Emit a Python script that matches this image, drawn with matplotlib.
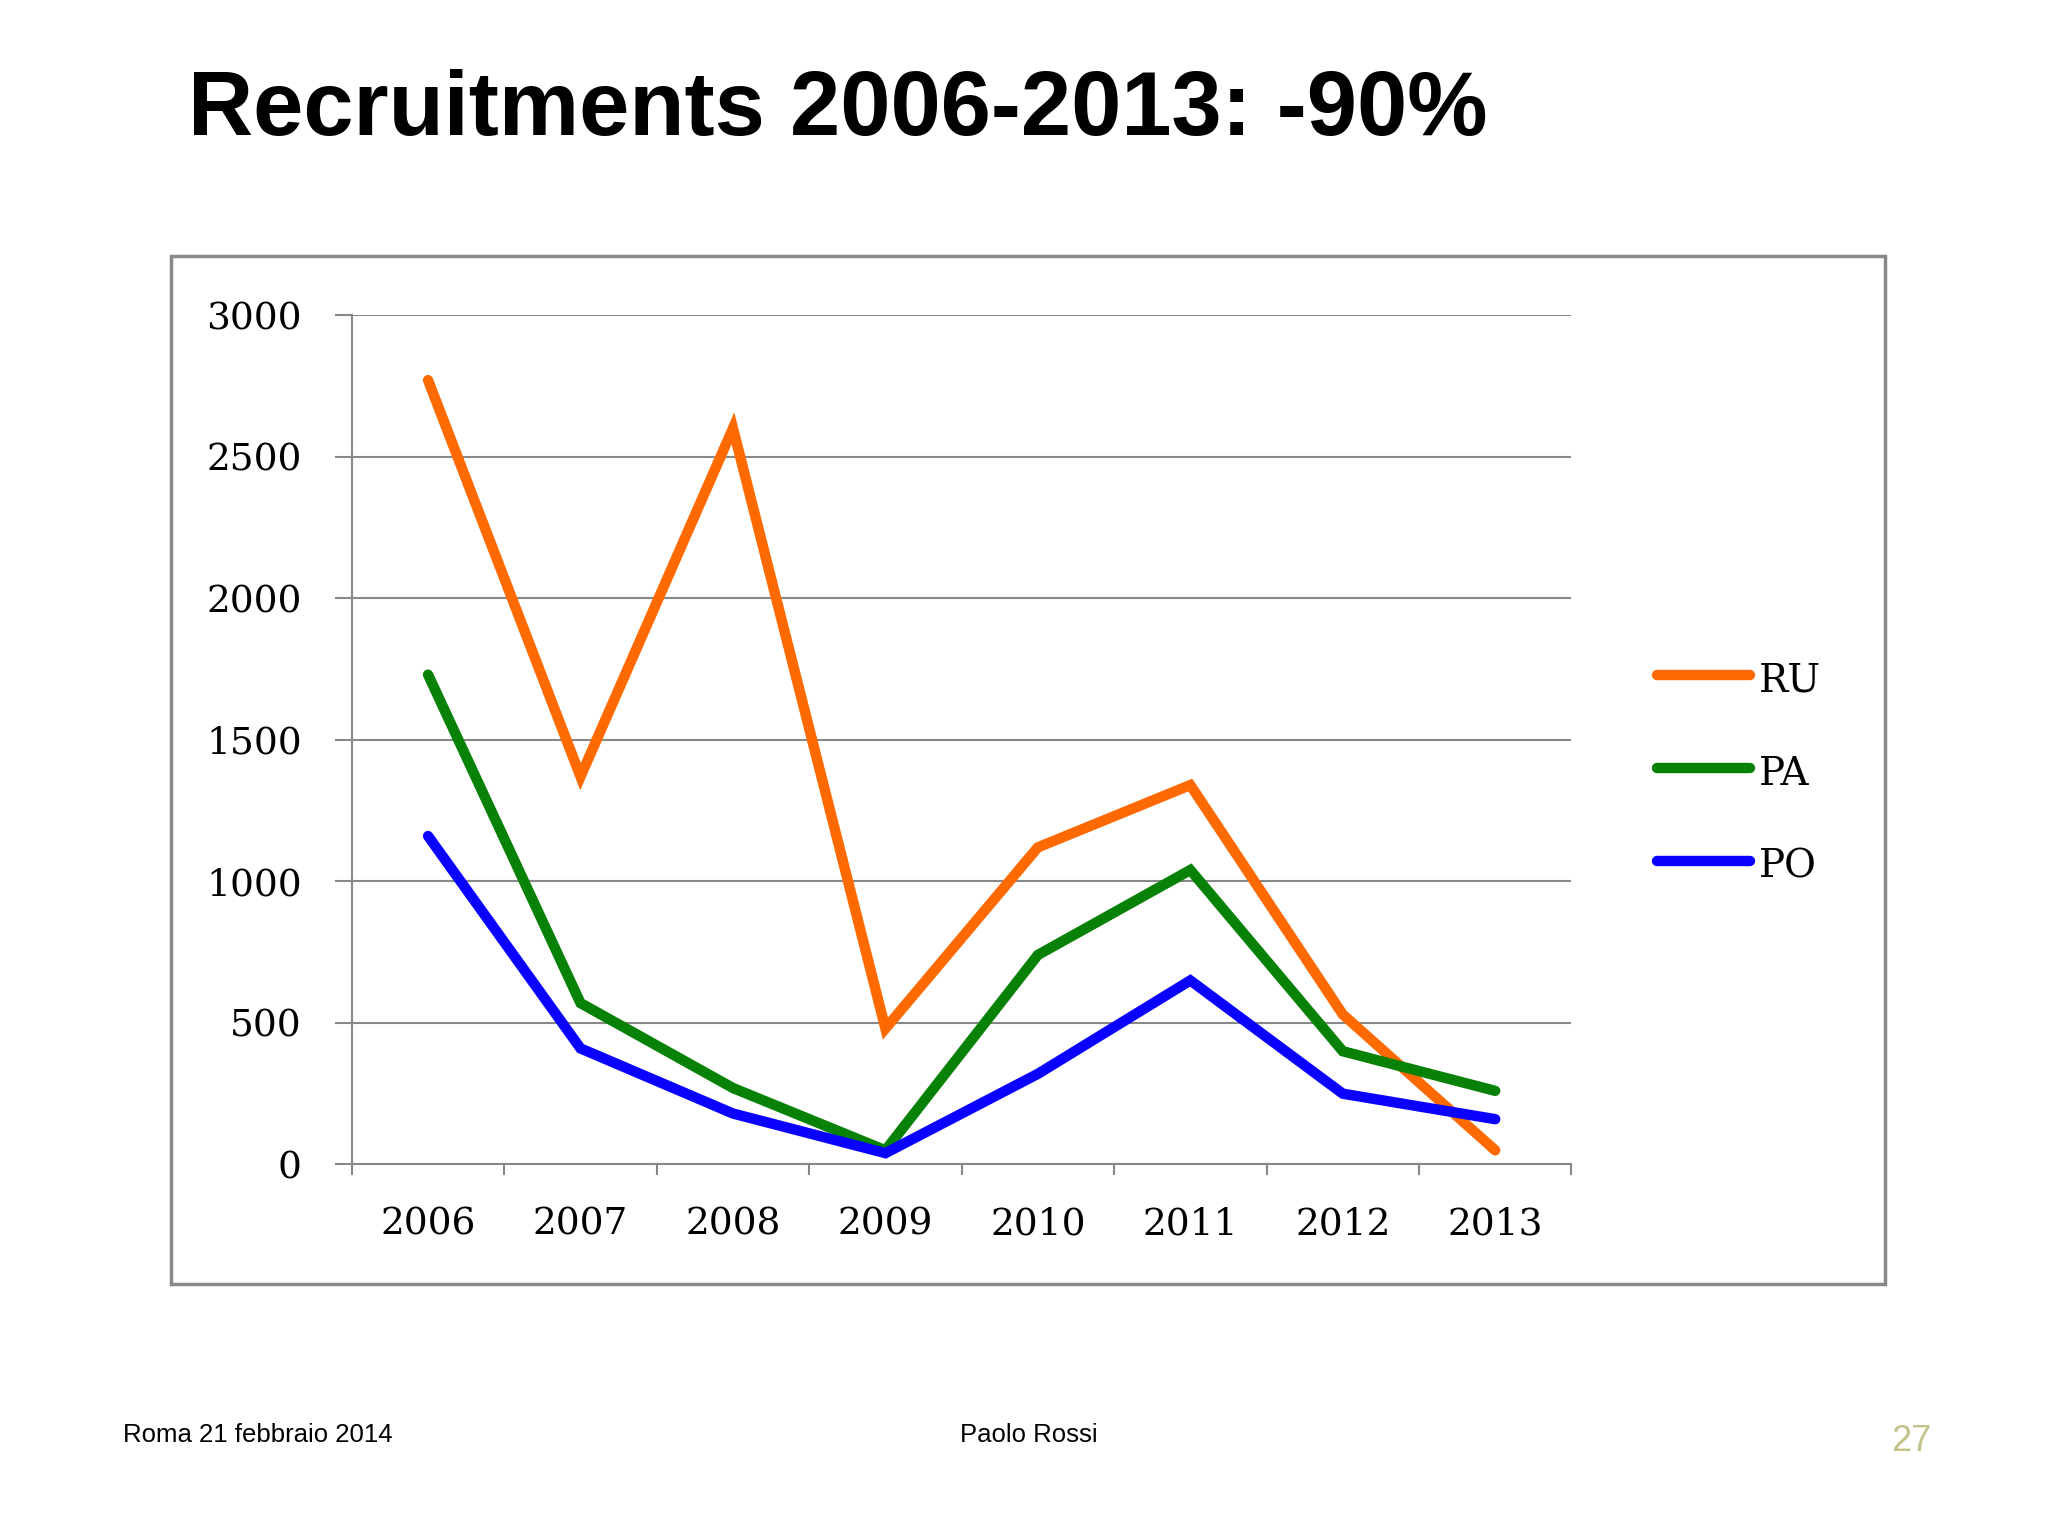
import matplotlib
matplotlib.use("Agg")
import matplotlib.pyplot as plt
from matplotlib.patches import Rectangle
from matplotlib.lines import Line2D

years = ["2006", "2007", "2008", "2009", "2010", "2011", "2012", "2013"]
ru = [2770, 1370, 2600, 480, 1120, 1340, 530, 50]
pa = [1730, 570, 270, 50, 740, 1040, 400, 260]
po = [1160, 410, 180, 40, 320, 650, 250, 160]
series = [("RU", ru, "#ff6a00"), ("PA", pa, "#078207"), ("PO", po, "#0a00ff")]
yticks = [0, 500, 1000, 1500, 2000, 2500, 3000]

W, H = 1560, 1170
fig = plt.figure(figsize=(20.48, 15.36), dpi=100)
fig.patch.set_facecolor("white")
fig.add_artist(Rectangle((130/W, 1-978/H), (1436-130)/W, (978-195)/H, transform=fig.transFigure,
                         fill=False, edgecolor="#888888", linewidth=2.5))
fig.text(143/W, 1-85/H, "Recruitments 2006-2013: -90%", fontsize=65, fontweight="bold",
         family="Liberation Sans", va="center", ha="left")

ax = fig.add_axes([268/W, 1-887/H, (1197-268)/W, (887-240)/H])
x = list(range(len(years)))
for name, vals, c in series:
    ax.plot(x, vals, color=c, linewidth=7.5, solid_capstyle="round", solid_joinstyle="miter")
ax.set_xlim(-0.5, len(years)-0.5)
ax.set_ylim(0, 3000)
ax.set_yticks(yticks)
ax.set_yticklabels([str(v) for v in yticks], family="DejaVu Serif", fontsize=27)
ax.set_xticks(x)
ax.set_xticklabels(years, family="DejaVu Serif", fontsize=27)
ax.tick_params(axis="x", length=0, pad=30)
ax.set_xticks([i-0.5 for i in range(len(years)+1)], minor=True)
ax.tick_params(axis="x", which="minor", length=8, direction="out", color="#888888", width=1.5)
ax.tick_params(axis="y", length=12, color="#888888", width=1.5, pad=24)
for v in yticks:
    ax.axhline(v, color="#888888", linewidth=1.5, zorder=0)
for s in ["top", "right"]:
    ax.spines[s].set_visible(False)
ax.spines["left"].set_color("#888888")
ax.spines["bottom"].set_color("#888888")
ax.spines["left"].set_linewidth(1.5)
ax.spines["bottom"].set_linewidth(1.5)

for i, (name, vals, c) in enumerate(series):
    yy = 1 - (514 + 71*i)/H
    fig.add_artist(Line2D([1262/W, 1333/W], [yy, yy], transform=fig.transFigure, color=c,
                          linewidth=7.5, solid_capstyle="round"))
    fig.text(1340/W, yy - 0.004, name, fontsize=28, family="DejaVu Serif", va="center", ha="left")

fig.text(94/W, 1-1093/H, "Roma 21 febbraio 2014", fontsize=18.5, family="Liberation Sans", va="center")
fig.text(784/W, 1-1093/H, "Paolo Rossi", fontsize=18.5, family="Liberation Sans", va="center", ha="center")
fig.text(1456/W, 1-1098/H, "27", fontsize=26, family="Liberation Sans", va="center", ha="center", color="#c2c28a")

fig.savefig("out.png", dpi=100)
